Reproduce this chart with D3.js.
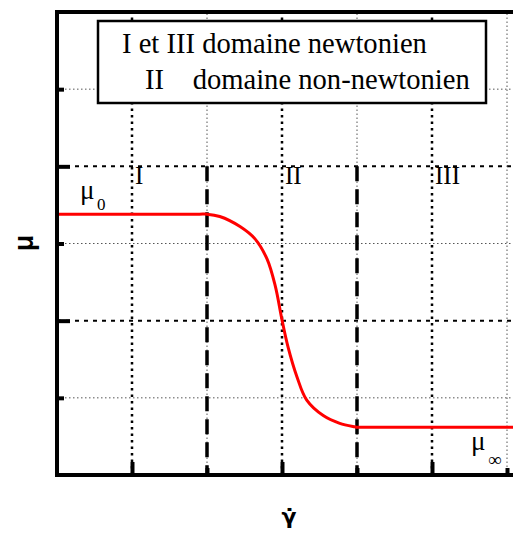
<!DOCTYPE html>
<html>
<head>
<meta charset="utf-8">
<script src="https://cdn.jsdelivr.net/npm/d3@7"></script>
<style>
html,body{margin:0;padding:0;background:#fff;overflow:hidden;}
svg{display:block;}
</style>
</head>
<body>
<svg id="chart" width="513" height="537"></svg>
<script>
// ---- data ----
const xTicks = [1, 2, 3, 4, 5, 6];
const yTicks = [1, 2, 3, 4, 5];
const xMajor = [1, 3, 5];
const yMajor = [2, 4];
const curveX = [0, 1.0, 1.9, 2.0, 2.17, 2.44, 2.64, 2.8, 2.91, 3.0, 3.08, 3.2, 3.33, 3.55, 3.77, 3.97, 4.0, 4.1, 5.0, 7];
const curveY = [3.38, 3.38, 3.38, 3.38, 3.35, 3.22, 3.06, 2.80, 2.45, 2.01, 1.66, 1.27, 0.97, 0.77, 0.67, 0.625, 0.62, 0.62, 0.62, 0.62];
const domainBounds = [2, 4];
const domainLabels = ["I", "II", "III"];
const domainLabelX = [1, 3, 5];
const legendLines = ["I et III domaine newtonien", "II    domaine non-newtonien"];

// ---- layout ----
const svg = d3.select("#chart");
const x = d3.scaleLinear().domain([0, 6]).range([57, 507]);
const y = d3.scaleLinear().domain([0, 6]).range([475, 12]);
const xEnd = 520;

// gridlines
const g = svg.append("g");
yTicks.forEach(t => {
  const major = yMajor.includes(t);
  g.append("line")
    .attr("x1", x(0)).attr("x2", xEnd)
    .attr("y1", y(t)).attr("y2", y(t))
    .attr("stroke", major ? "#000" : "#555")
    .attr("stroke-width", major ? 2 : 1)
    .attr("stroke-dasharray", major ? "4,5" : "1.5,2.5");
});
xTicks.forEach(t => {
  const major = xMajor.includes(t);
  g.append("line")
    .attr("x1", x(t)).attr("x2", x(t))
    .attr("y1", y(0)).attr("y2", y(6))
    .attr("stroke", major ? "#000" : "#555")
    .attr("stroke-width", major ? 2.5 : 1)
    .attr("stroke-dasharray", major ? "2.5,4" : "1.5,2.5");
});

// domain boundaries
domainBounds.forEach(b => {
  g.append("line")
    .attr("x1", x(b)).attr("x2", x(b))
    .attr("y1", y(4)).attr("y2", y(0))
    .attr("stroke", "#000")
    .attr("stroke-width", 3.5)
    .attr("stroke-dasharray", "15,8");
});

// curve
const pts = curveX.map((v, i) => [v, curveY[i]]);
svg.append("path")
  .datum(pts)
  .attr("d", d3.line().x(d => x(d[0])).y(d => y(d[1])).curve(d3.curveCatmullRom.alpha(0.5)))
  .attr("fill", "none")
  .attr("stroke", "#ff0000")
  .attr("stroke-width", 3);

// axes
const xAxis = svg.append("g").attr("transform", `translate(0,${y(0)})`)
  .call(d3.axisBottom(x).tickValues(xTicks).tickFormat("").tickSizeOuter(0).tickSizeInner(-12));
xAxis.select(".domain").remove();
xAxis.selectAll(".tick line")
  .attr("y2", d => xMajor.includes(d) ? -13 : -7)
  .attr("stroke", "#000").attr("stroke-width", 4);

const yAxis = svg.append("g").attr("transform", `translate(${x(0)},0)`)
  .call(d3.axisLeft(y).tickValues(yTicks).tickFormat("").tickSizeOuter(0).tickSizeInner(-12));
yAxis.select(".domain").remove();
yAxis.selectAll(".tick line")
  .attr("x2", d => yMajor.includes(d) ? 13 : 7)
  .attr("stroke", "#000").attr("stroke-width", 4);

// frame lines
svg.append("line").attr("x1", x(0)).attr("x2", xEnd).attr("y1", y(0)).attr("y2", y(0))
  .attr("stroke", "#000").attr("stroke-width", 4);
svg.append("line").attr("x1", x(0)).attr("x2", xEnd).attr("y1", y(6)).attr("y2", y(6))
  .attr("stroke", "#000").attr("stroke-width", 4);
svg.append("line").attr("x1", x(0)).attr("x2", x(0)).attr("y1", y(6) - 2).attr("y2", y(0) + 2)
  .attr("stroke", "#000").attr("stroke-width", 4);

// legend
const serif = "'Liberation Serif', 'Times New Roman', serif";
svg.append("rect")
  .attr("x", 98).attr("y", 21).attr("width", 388).attr("height", 82)
  .attr("fill", "#fff").attr("stroke", "#000").attr("stroke-width", 2.5);
svg.append("text").attr("x", 122).attr("y", 53)
  .attr("font-family", serif).attr("font-size", 28.6)
  .style("white-space", "pre")
  .text(legendLines[0]);
svg.append("text").attr("x", 145).attr("y", 89)
  .attr("font-family", serif).attr("font-size", 28.6)
  .style("white-space", "pre")
  .text(legendLines[1]);

// domain labels
domainLabels.forEach((l, i) => {
  svg.append("text").attr("x", x(domainLabelX[i]) + 3).attr("y", 184)
    .attr("font-family", serif).attr("font-size", 25)
    .text(l);
});

// mu0 & mu_inf
const mu0 = svg.append("text").attr("x", 80).attr("y", 199)
  .attr("font-family", serif).attr("font-size", 27);
mu0.append("tspan").text("μ");
mu0.append("tspan").attr("x", 97).attr("y", 210).attr("font-size", 17).text("0");

const muInf = svg.append("text").attr("x", 471).attr("y", 450)
  .attr("font-family", serif).attr("font-size", 27);
muInf.append("tspan").text("μ");
muInf.append("tspan").attr("x", 488).attr("y", 466).attr("font-size", 19).text("∞");

// axis labels
svg.append("text")
  .attr("transform", "translate(33,243) rotate(-90)")
  .attr("text-anchor", "middle")
  .attr("font-family", "'Liberation Sans', Arial, sans-serif")
  .attr("font-weight", "bold").attr("font-size", 27)
  .text("μ");
svg.append("text")
  .attr("x", 289).attr("y", 524)
  .attr("text-anchor", "middle")
  .attr("font-family", "'DejaVu Sans', sans-serif")
  .attr("font-weight", "bold").attr("font-size", 22)
  .text("γ\u0307");
</script>
</body>
</html>
